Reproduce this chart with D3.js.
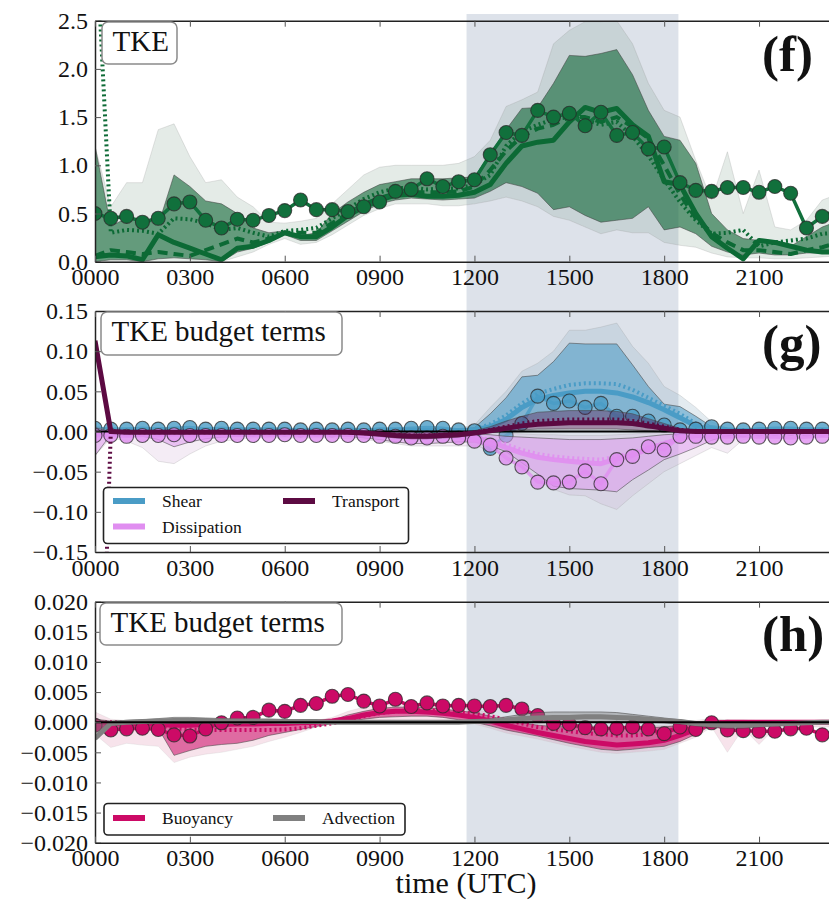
<!DOCTYPE html>
<html>
<head>
<meta charset="utf-8">
<script src="https://cdn.jsdelivr.net/npm/d3@7"></script>
<style>
  body { margin: 0; background: #fff; }
  svg { display: block; }
  svg text { font-family: "Liberation Serif", "Times New Roman", serif !important; fill: #111; }
</style>
</head>
<body>
<svg id="chart" width="829" height="903"></svg>
<script>
// ---- time axis (hours UTC, half-hourly) ----
const HOURS = [0,0.5,1,1.5,2,2.5,3,3.5,4,4.5,5,5.5,6,6.5,7,7.5,8,8.5,9,9.5,
  10,10.5,11,11.5,12,12.5,13,13.5,14,14.5,15,15.5,16,16.5,17,17.5,18,18.5,19,19.5,
  20,20.5,21,21.5,22,22.5,23,23.5];
const X_TICKS = [0,3,6,9,12,15,18,21];
const X_TICK_LABELS = ["0000","0300","0600","0900","1200","1500","1800","2100"];
const SHADE_HOURS = [11.75, 18.45];

// ---- (f) TKE ----
const tkeObs = [0.50,0.45,0.47,0.41,0.45,0.60,0.62,0.43,0.35,0.44,
  0.43,0.48,0.53,0.64,0.54,0.54,0.52,0.57,0.62,0.73,
  0.75,0.86,0.78,0.83,0.85,1.11,1.34,1.31,1.57,1.50,
  1.54,1.41,1.55,1.31,1.34,1.17,1.19,0.82,0.74,0.73,
  0.77,0.77,0.72,0.78,0.71,0.35,0.47,0.55];
const tkeSolid = [0.05,0.07,0.06,0.02,0.28,0.20,0.14,0.08,0.02,0.14,
  0.16,0.22,0.30,0.26,0.26,0.36,0.48,0.57,0.64,0.69,
  0.70,0.68,0.68,0.69,0.72,0.80,1.02,1.20,1.24,1.26,
  1.45,1.60,1.55,1.59,1.42,1.30,0.83,0.80,0.50,0.26,
  0.14,0.03,0.22,0.20,0.16,0.12,0.10,0.10];
const tkeDashed = [0.06,0.12,0.10,0.08,0.10,0.08,0.06,0.12,0.18,0.24,
  0.20,0.24,0.30,0.30,0.30,0.40,0.50,0.60,0.66,0.71,
  0.72,0.72,0.72,0.73,0.78,0.95,1.15,1.30,1.38,1.42,
  1.50,1.50,1.45,1.50,1.40,1.28,1.00,0.70,0.45,0.30,
  0.20,0.12,0.12,0.10,0.08,0.12,0.15,0.20];
const tkeDotted = [3.60,0.30,0.33,0.32,0.29,0.45,0.44,0.40,0.33,0.35,
  0.30,0.26,0.32,0.33,0.35,0.45,0.55,0.65,0.72,0.76,
  0.77,0.75,0.76,0.76,0.80,0.90,1.20,1.35,1.42,1.48,
  1.50,1.47,1.42,1.45,1.30,1.10,0.85,0.62,0.43,0.29,
  0.30,0.33,0.16,0.20,0.22,0.24,0.29,0.30];
const tkeInnerHi = [1.20,0.37,0.45,0.45,0.38,0.90,0.78,0.63,0.60,0.50,
  0.35,0.30,0.32,0.27,0.30,0.50,0.62,0.72,0.80,0.83,
  0.86,0.86,0.86,0.87,0.88,1.12,1.37,1.59,1.60,1.85,
  2.14,2.13,2.16,2.20,1.94,1.57,1.30,1.26,1.02,0.50,
  0.33,0.24,0.22,0.19,0.16,0.26,0.36,0.42];
const tkeInnerLo = [0.00,0.02,0.02,0.00,0.03,0.04,0.03,0.02,0.00,0.10,
  0.14,0.20,0.28,0.22,0.22,0.32,0.42,0.52,0.60,0.64,
  0.66,0.65,0.64,0.65,0.66,0.73,0.82,0.78,0.71,0.54,
  0.57,0.48,0.41,0.43,0.45,0.57,0.33,0.36,0.29,0.16,
  0.10,0.07,0.09,0.07,0.07,0.09,0.09,0.10];
const tkeOuterHi = [1.20,0.57,0.82,0.82,1.37,1.43,1.09,0.82,0.85,0.67,
  0.57,0.41,0.40,0.42,0.45,0.60,0.75,0.90,0.98,1.00,
  1.00,1.00,1.00,1.02,1.09,1.26,1.61,1.68,1.76,2.26,
  2.40,2.49,2.49,2.50,2.26,1.85,1.57,1.50,1.05,0.64,
  1.14,0.50,0.95,0.36,0.33,0.43,0.64,0.70];
const tkeOuterLo = [0.00,0.00,0.00,0.00,0.00,0.00,0.00,0.00,0.00,0.05,
  0.10,0.18,0.24,0.18,0.20,0.28,0.38,0.48,0.55,0.60,
  0.60,0.60,0.58,0.58,0.60,0.63,0.67,0.63,0.57,0.47,
  0.43,0.36,0.29,0.33,0.30,0.30,0.20,0.17,0.15,0.09,
  0.05,0.04,0.04,0.03,0.03,0.04,0.05,0.06];
const tkeTicks = [0,0.5,1,1.5,2,2.5];
const tkeTickLabels = ["0.0","0.5","1.0","1.5","2.0","2.5"];

// ---- (g) shear, dissipation, transport ----
const shearObs = [0.004,0.003,0.003,0.004,0.003,0.004,0.005,0.003,0.004,0.003,
  0.003,0.003,0.003,0.002,0.003,0.002,0.003,0.002,0.003,0.003,
  0.004,0.005,0.004,0.002,0.001,-0.021,-0.005,0.010,0.044,0.035,
  0.038,0.030,0.035,0.019,0.019,0.013,0.008,0.002,0.003,0.006,
  0.003,0.002,0.003,0.004,0.004,0.003,0.003,0.003];
const shearSolid = [0.001,0,0,0,0,0,0,0,0,0,
  0,0,0,0,0,0,0,0,0,0.001,
  0.001,0.001,0.001,0.001,0.002,0.006,0.015,0.030,0.040,0.045,
  0.048,0.050,0.050,0.048,0.043,0.036,0.027,0.017,0.007,0.002,
  0.001,0.001,0,0,0,0,0,0];
const shearDotted = [0.002,0.001,0.001,0.001,0.001,0.001,0.001,0.001,0.001,0.001,
  0.001,0.001,0.001,0.001,0.001,0.001,0.001,0.001,0.001,0.001,
  0.001,0.001,0.001,0.001,0.003,0.009,0.020,0.035,0.047,0.053,
  0.058,0.060,0.060,0.059,0.052,0.042,0.032,0.022,0.010,0.004,
  0.001,0.001,0.001,0.001,0.001,0.001,0.001,0.001];
const shearInnerHi = [0.003,0.002,0.002,0.002,0.002,0.002,0.002,0.002,0.002,0.002,
  0.002,0.002,0.002,0.002,0.002,0.002,0.002,0.002,0.002,0.002,
  0.002,0.002,0.002,0.002,0.005,0.022,0.042,0.068,0.070,0.087,
  0.110,0.109,0.109,0.109,0.083,0.056,0.034,0.031,0.019,0.006,
  0.002,0.002,0.002,0.002,0.002,0.002,0.002,0.002];
const shearInnerLo = [0,0,0,0,0,0,0,0,0,0,
  0,0,0,0,0,0,0,0,0,0,
  0,0,0,0,0,0.001,0.003,0.005,0.008,0.010,
  0.012,0.012,0.012,0.010,0.008,0.005,0.002,0.001,0,0,
  0,0,0,0,0,0,0,0];
const shearOuterHi = [0.004,0.003,0.003,0.003,0.003,0.003,0.003,0.003,0.003,0.003,
  0.003,0.003,0.003,0.003,0.003,0.003,0.003,0.003,0.003,0.003,
  0.003,0.003,0.003,0.004,0.008,0.030,0.050,0.075,0.085,0.100,
  0.126,0.126,0.130,0.135,0.106,0.085,0.056,0.045,0.030,0.012,
  0.004,0.003,0.003,0.003,0.003,0.003,0.003,0.003];
const shearOuterLo = [-0.002,-0.002,-0.002,-0.002,-0.002,-0.002,-0.002,-0.002,-0.002,-0.002,
  -0.002,-0.002,-0.002,-0.002,-0.002,-0.002,-0.002,-0.002,-0.002,-0.002,
  -0.002,-0.002,-0.002,-0.002,-0.002,-0.002,-0.001,0.000,0.002,0.003,
  0.004,0.004,0.004,0.003,0.002,0.001,0.000,-0.001,-0.002,-0.002,
  -0.002,-0.002,-0.002,-0.002,-0.002,-0.002,-0.002,-0.002];

const dissObs = [-0.005,-0.005,-0.006,-0.005,-0.005,-0.004,-0.005,-0.005,-0.005,-0.005,
  -0.005,-0.005,-0.004,-0.005,-0.005,-0.005,-0.005,-0.005,-0.006,-0.006,
  -0.008,-0.008,-0.006,-0.008,-0.012,-0.017,-0.033,-0.044,-0.063,-0.064,
  -0.063,-0.049,-0.065,-0.035,-0.031,-0.019,-0.023,-0.006,-0.006,-0.007,
  -0.007,-0.006,-0.007,-0.007,-0.008,-0.007,-0.006,-0.006];
const dissSolid = [-0.002,-0.002,-0.002,-0.002,-0.002,-0.002,-0.002,-0.002,-0.002,-0.002,
  -0.002,-0.002,-0.002,-0.002,-0.002,-0.002,-0.002,-0.002,-0.003,-0.004,
  -0.005,-0.005,-0.005,-0.006,-0.008,-0.012,-0.020,-0.027,-0.032,-0.035,
  -0.037,-0.039,-0.040,-0.034,-0.029,-0.022,-0.015,-0.009,-0.005,-0.003,
  -0.002,-0.002,-0.002,-0.002,-0.002,-0.002,-0.002,-0.002];
const dissDotted = [-0.002,-0.002,-0.002,-0.002,-0.002,-0.002,-0.002,-0.002,-0.002,-0.002,
  -0.002,-0.002,-0.002,-0.002,-0.002,-0.002,-0.002,-0.002,-0.003,-0.003,
  -0.004,-0.004,-0.004,-0.005,-0.007,-0.010,-0.016,-0.023,-0.028,-0.031,
  -0.033,-0.034,-0.035,-0.031,-0.026,-0.020,-0.014,-0.009,-0.005,-0.003,
  -0.002,-0.002,-0.002,-0.002,-0.002,-0.002,-0.002,-0.002];
const dissInnerHi = [0.005,-0.001,-0.001,-0.001,-0.001,-0.001,-0.001,-0.001,-0.001,-0.001,
  -0.001,-0.001,-0.001,-0.001,-0.001,-0.001,-0.001,-0.001,-0.001,-0.002,
  -0.002,-0.002,-0.002,-0.002,-0.003,-0.004,-0.006,-0.007,-0.008,-0.009,
  -0.010,-0.010,-0.010,-0.009,-0.008,-0.006,-0.004,-0.003,-0.002,-0.001,
  -0.001,-0.001,-0.001,-0.001,-0.001,-0.001,-0.001,-0.001];
const dissInnerLo = [-0.030,-0.004,-0.005,-0.006,-0.010,-0.019,-0.013,-0.009,-0.007,-0.006,
  -0.005,-0.005,-0.005,-0.005,-0.005,-0.005,-0.006,-0.008,-0.010,-0.013,
  -0.015,-0.015,-0.014,-0.013,-0.013,-0.018,-0.025,-0.039,-0.053,-0.068,
  -0.071,-0.072,-0.073,-0.075,-0.060,-0.048,-0.035,-0.028,-0.020,-0.011,
  -0.005,-0.004,-0.004,-0.004,-0.004,-0.004,-0.004,-0.004];
const dissOuterHi = [0.006,0.001,0.001,0.001,0.001,0.001,0.001,0.001,0.001,0.001,
  0.001,0.001,0.001,0.001,0.001,0.001,0.001,0.001,0.001,0.000,
  0.000,0.000,0.000,0.000,0.000,-0.001,-0.002,-0.003,-0.004,-0.004,
  -0.005,-0.005,-0.005,-0.004,-0.003,-0.002,-0.001,0.000,0.001,0.001,
  0.001,0.001,0.001,0.001,0.001,0.001,0.001,0.001];
const dissOuterLo = [-0.030,-0.008,-0.012,-0.020,-0.037,-0.040,-0.028,-0.018,-0.012,-0.010,
  -0.008,-0.008,-0.008,-0.008,-0.008,-0.008,-0.009,-0.010,-0.012,-0.015,
  -0.018,-0.018,-0.018,-0.018,-0.018,-0.022,-0.030,-0.045,-0.060,-0.072,
  -0.079,-0.080,-0.090,-0.097,-0.080,-0.065,-0.050,-0.040,-0.030,-0.020,
  -0.027,-0.010,-0.008,-0.007,-0.007,-0.007,-0.007,-0.007];

const transSolid = [0.113,0.000,-0.001,-0.001,-0.001,-0.001,-0.001,-0.001,-0.001,-0.001,
  -0.001,-0.001,-0.001,-0.001,-0.001,-0.001,-0.001,-0.002,-0.003,-0.005,
  -0.006,-0.006,-0.005,-0.004,-0.002,0.001,0.004,0.007,0.009,0.010,
  0.011,0.011,0.011,0.011,0.010,0.007,0.004,0.001,0.000,0.000,
  0.000,0.000,0.000,0.000,0.000,0.000,0.000,0.000];
const transDotted = [-0.600,0.000,-0.001,-0.001,-0.001,-0.001,-0.001,-0.001,-0.001,-0.001,
  -0.001,-0.001,-0.001,-0.001,-0.001,-0.001,-0.001,-0.002,-0.003,-0.004,
  -0.005,-0.005,-0.004,-0.003,-0.001,0.002,0.006,0.010,0.013,0.014,
  0.015,0.015,0.015,0.015,0.013,0.010,0.006,0.002,0.000,0.000,
  0.000,0.000,0.000,0.000,0.000,0.000,0.000,0.000];
const transInnerHi = [0.113,0.001,0.001,0.001,0.001,0.001,0.001,0.001,0.001,0.001,
  0.001,0.001,0.001,0.001,0.001,0.001,0.001,0.000,-0.001,-0.002,
  -0.003,-0.003,-0.002,-0.001,0.001,0.006,0.013,0.019,0.024,0.025,
  0.026,0.026,0.026,0.025,0.022,0.016,0.010,0.004,0.001,0.001,
  0.001,0.001,0.001,0.001,0.001,0.001,0.001,0.001];
const transInnerLo = [0.100,-0.002,-0.002,-0.002,-0.002,-0.002,-0.002,-0.002,-0.002,-0.002,
  -0.002,-0.002,-0.002,-0.002,-0.002,-0.002,-0.003,-0.004,-0.006,-0.008,
  -0.009,-0.009,-0.008,-0.007,-0.004,-0.001,0.000,0.002,0.003,0.003,
  0.003,0.003,0.003,0.003,0.002,0.001,0.000,-0.001,-0.001,-0.001,
  -0.001,-0.001,-0.001,-0.001,-0.001,-0.001,-0.001,-0.001];
const budgetTicks = [-0.15,-0.10,-0.05,0,0.05,0.10,0.15];
const budgetTickLabels = ["\u22120.15","\u22120.10","\u22120.05","0.00","0.05","0.10","0.15"];

// ---- (h) buoyancy, advection ----
const buoyObs = [-0.0005,-0.0013,-0.0011,-0.0010,-0.0012,-0.0021,-0.0023,-0.0011,-0.0001,0.0007,
  0.0008,0.0020,0.0018,0.0028,0.0031,0.0043,0.0046,0.0035,0.0027,0.0038,
  0.0026,0.0032,0.0027,0.0028,0.0027,0.0026,0.0028,0.0022,0.0011,-0.0002,
  -0.0003,-0.0009,-0.0011,-0.0010,-0.0008,-0.0011,-0.0019,-0.0008,-0.0012,-0.0001,
  -0.0013,-0.0014,-0.0015,-0.0015,-0.0011,-0.0010,-0.0021,-0.0015];
const buoySolid = [0.0000,-0.0003,-0.0003,-0.0003,-0.0004,-0.0005,-0.0005,-0.0004,-0.0004,-0.0003,
  -0.0003,-0.0002,-0.0002,-0.0001,0.0000,0.0002,0.0006,0.0012,0.0016,0.0018,
  0.0018,0.0017,0.0015,0.0012,0.0008,0.0002,-0.0005,-0.0011,-0.0017,-0.0022,
  -0.0027,-0.0032,-0.0035,-0.0038,-0.0036,-0.0034,-0.0030,-0.0022,-0.0012,-0.0002,
  0.0000,0.0000,0.0000,0.0000,0.0000,0.0000,0.0000,0.0000];
const buoyDotted = [0.0000,0.0000,0.0000,-0.0002,-0.0005,-0.0010,-0.0012,-0.0013,-0.0013,-0.0013,
  -0.0013,-0.0013,-0.0012,-0.0010,-0.0006,-0.0002,0.0004,0.0010,0.0015,0.0018,
  0.0020,0.0020,0.0019,0.0017,0.0014,0.0010,0.0004,-0.0002,-0.0008,-0.0012,
  -0.0015,-0.0018,-0.0020,-0.0022,-0.0022,-0.0020,-0.0015,-0.0010,-0.0005,0.0000,
  0.0000,0.0000,0.0000,0.0000,0.0000,0.0000,0.0000,0.0000];
const buoyInnerHi = [0.0005,0.0000,0.0000,0.0000,0.0000,0.0000,0.0000,0.0000,0.0000,0.0000,
  0.0000,0.0000,0.0000,0.0000,0.0000,0.0003,0.0012,0.0018,0.0023,0.0025,
  0.0025,0.0024,0.0022,0.0019,0.0016,0.0010,0.0003,-0.0001,-0.0005,-0.0007,
  -0.0008,-0.0009,-0.0010,-0.0010,-0.0010,-0.0009,-0.0008,-0.0005,0.0000,0.0003,
  0.0003,0.0002,0.0001,0.0001,0.0001,0.0001,0.0001,0.0001];
const buoyInnerLo = [-0.0015,-0.0010,-0.0008,-0.0008,-0.0010,-0.0055,-0.0047,-0.0040,-0.0037,-0.0035,
  -0.0030,-0.0022,-0.0017,-0.0012,-0.0007,-0.0002,0.0002,0.0005,0.0008,0.0009,
  0.0010,0.0010,0.0008,0.0004,0.0000,-0.0006,-0.0013,-0.0018,-0.0023,-0.0029,
  -0.0035,-0.0040,-0.0045,-0.0047,-0.0045,-0.0042,-0.0040,-0.0032,-0.0020,-0.0005,
  -0.0005,-0.0004,-0.0004,-0.0003,-0.0003,-0.0003,-0.0003,-0.0003];
const buoyOuterHi = [0.0017,0.0005,0.0003,0.0003,0.0003,0.0003,0.0003,0.0003,0.0003,0.0003,
  0.0003,0.0003,0.0003,0.0003,0.0003,0.0008,0.0018,0.0025,0.0030,0.0032,
  0.0032,0.0031,0.0029,0.0026,0.0022,0.0015,0.0006,0.0002,-0.0002,-0.0004,
  -0.0005,-0.0006,-0.0007,-0.0007,-0.0007,-0.0006,-0.0005,-0.0003,0.0003,0.0006,
  0.0004,0.0004,0.0003,0.0003,0.0003,0.0003,0.0003,0.0003];
const buoyOuterLo = [-0.0020,-0.0042,-0.0035,-0.0038,-0.0040,-0.0067,-0.0058,-0.0053,-0.0050,-0.0045,
  -0.0040,-0.0032,-0.0025,-0.0017,-0.0008,-0.0003,0.0000,0.0002,0.0003,0.0004,
  0.0004,0.0003,0.0002,0.0000,-0.0003,-0.0010,-0.0018,-0.0023,-0.0028,-0.0034,
  -0.0040,-0.0045,-0.0050,-0.0052,-0.0050,-0.0048,-0.0045,-0.0035,-0.0025,-0.0008,
  -0.0050,-0.0010,-0.0037,-0.0010,-0.0008,-0.0008,-0.0008,-0.0008];

const advSolid = [-0.0027,-0.0002,0.0000,0.0001,0.0002,0.0003,0.0003,0.0003,0.0002,0.0002,
  0.0002,0.0002,0.0001,0.0001,0.0001,0.0000,0.0000,0.0000,0.0000,0.0000,
  0.0000,0.0000,0.0000,0.0000,0.0001,0.0002,0.0004,0.0006,0.0007,0.0008,
  0.0008,0.0009,0.0009,0.0008,0.0007,0.0005,0.0003,0.0001,-0.0002,-0.0004,
  -0.0005,-0.0005,-0.0004,-0.0003,-0.0002,-0.0001,0.0000,0.0000];
const advInnerHi = [0.0005,0.0002,0.0003,0.0004,0.0006,0.0008,0.0008,0.0007,0.0006,0.0005,
  0.0005,0.0004,0.0003,0.0002,0.0002,0.0001,0.0001,0.0001,0.0001,0.0001,
  0.0001,0.0001,0.0001,0.0001,0.0003,0.0005,0.0009,0.0013,0.0016,0.0017,
  0.0017,0.0017,0.0017,0.0016,0.0013,0.0010,0.0007,0.0004,0.0001,0.0000,
  0.0000,0.0000,0.0000,0.0000,0.0000,0.0000,0.0000,0.0000];
const advInnerLo = [-0.0030,-0.0005,-0.0003,-0.0002,-0.0002,-0.0002,-0.0002,-0.0002,-0.0002,-0.0002,
  -0.0001,-0.0001,-0.0001,-0.0001,-0.0001,-0.0001,-0.0001,-0.0001,-0.0001,-0.0001,
  -0.0001,-0.0001,-0.0001,-0.0001,-0.0001,-0.0001,0.0000,0.0001,0.0001,0.0001,
  0.0001,0.0001,0.0001,0.0001,0.0001,0.0000,-0.0001,-0.0003,-0.0006,-0.0009,
  -0.0010,-0.0010,-0.0008,-0.0006,-0.0004,-0.0002,-0.0001,-0.0001];
const buoyTicks = [-0.02,-0.015,-0.01,-0.005,0,0.005,0.01,0.015,0.02];
const buoyTickLabels = ["\u22120.020","\u22120.015","\u22120.010","\u22120.005","0.000","0.005","0.010","0.015","0.020"];

// ---- legends ----
const legendG = ["Shear", "Dissipation", "Transport"];
const legendH = ["Buoyancy", "Advection"];

// ---- colours ----
const C = {
  green: "#0c6a35", shear: "#4a9cc6", diss: "#e08ef0", trans: "#5c0a42",
  buoy: "#cc0a66", adv: "#808080", shade: "#dde2ea", spine: "#222"
};
const SERIF = "'Liberation Serif', 'Times New Roman', serif";

const svg = d3.select("#chart");
const x = d3.scaleLinear().domain([0, 24]).range([95, 853.9]);
const PH = 241;

// daytime shading behind all three panels
svg.append("rect")
  .attr("x", x(SHADE_HOURS[0])).attr("y", 14)
  .attr("width", x(SHADE_HOURS[1]) - x(SHADE_HOURS[0])).attr("height", 843.3 - 14)
  .attr("fill", C.shade);

const DASH = { solid: null, dashed: "10,6", dotted: "2,3" };

function addText(sel, size) {
  return sel.append("text").style("font-family", SERIF).style("font-size", size + "px");
}

function drawPanel(p) {
  const y = d3.scaleLinear().domain(p.domain).range([p.top + PH, p.top]);
  const g = svg.append("g");
  const clipId = "clip-" + p.id;
  svg.append("clipPath").attr("id", clipId).append("rect")
    .attr("x", x(0)).attr("y", p.top).attr("width", x(24) - x(0)).attr("height", PH);
  const plot = g.append("g").attr("clip-path", `url(#${clipId})`);

  const band = (lo, hi) => d3.area()
    .x((d, i) => x(HOURS[i])).y0((d, i) => y(lo[i])).y1((d, i) => y(hi[i]))(HOURS);
  const line = d3.line().x((d, i) => x(HOURS[i])).y(d => y(d));

  const zero = () => plot.append("line")
    .attr("x1", x(0)).attr("x2", x(24)).attr("y1", y(0)).attr("y2", y(0))
    .attr("stroke", "#000").attr("stroke-width", 2);

  p.vars.forEach((v, vi) => {
    (v.bands || []).forEach(b => {
      plot.append("path").attr("d", band(b.lo, b.hi))
        .attr("fill", b.fill).attr("fill-opacity", b.op)
        .attr("stroke", b.edge || "#444").attr("stroke-opacity", b.edgeOp == null ? 0.55 : b.edgeOp)
        .attr("stroke-width", 1);
    });
    if (p.zeroBeforeLines && vi === p.vars.length - 1) zero();
    (v.lines || []).forEach(l => {
      plot.append("path").attr("d", line(l.vals)).attr("fill", "none")
        .attr("stroke", v.color).attr("stroke-width", l.w)
        .attr("stroke-opacity", l.op || 1)
        .attr("stroke-dasharray", DASH[l.style])
        .attr("stroke-linejoin", "round");
    });
    if (v.obs) {
      plot.append("path").attr("d", line(v.obs)).attr("fill", "none")
        .attr("stroke", v.obsColor || v.color).attr("stroke-width", 3.5)
        .attr("stroke-opacity", v.obsOp || 1);
      plot.selectAll(null).data(v.obs).join("circle")
        .attr("cx", (d, i) => x(HOURS[i])).attr("cy", d => y(d)).attr("r", 7)
        .attr("fill", v.obsColor || v.color).attr("fill-opacity", v.obsOp || 1)
        .attr("stroke", "#2a2a2a").attr("stroke-opacity", 0.75).attr("stroke-width", 1.1);
    }
  });
  if (p.zeroOnTop) zero();

  // axes: ticks point inward
  const left = d3.axisLeft(y).tickValues(p.ticks).tickFormat((d, i) => p.tickLabels[i])
    .tickSize(-6).tickSizeOuter(0).tickPadding(7);
  const bottom = d3.axisBottom(x).tickValues(X_TICKS).tickFormat((d, i) => X_TICK_LABELS[i])
    .tickSize(-6).tickSizeOuter(0).tickPadding(6.5);
  const top = d3.axisTop(x).tickValues(X_TICKS).tickFormat("").tickSize(-6).tickSizeOuter(0);

  const ga = g.append("g").attr("transform", `translate(${x(0)},0)`).call(left);
  const gb = g.append("g").attr("transform", `translate(0,${p.top + PH})`).call(bottom);
  const gt = g.append("g").attr("transform", `translate(0,${p.top})`).call(top);
  [ga, gb, gt].forEach(a => {
    a.attr("font-family", null).attr("font-size", null);
    a.select(".domain").attr("stroke", C.spine).attr("stroke-width", 1.5);
    a.selectAll(".tick line").attr("stroke", "#555").attr("stroke-width", 1);
    a.selectAll(".tick text").style("font-size", "24px")
      .style("font-family", SERIF).attr("fill", "#111");
  });

  // title box
  const tb = p.titleBox;
  g.append("rect").attr("x", tb[0]).attr("y", tb[1]).attr("width", tb[2]).attr("height", tb[3])
    .attr("rx", 6).attr("fill", "#fff").attr("stroke", "#8a8a8a").attr("stroke-width", 1.5);
  addText(g, 29).attr("x", tb[0] + 10.5).attr("y", tb[1] + 29).text(p.title);

  // panel tag
  addText(g, 51).attr("x", 762).attr("y", p.tagY).style("font-weight", "bold").text(p.tag);

  // legend
  if (p.legend) {
    const L = p.legend;
    g.append("rect").attr("x", L.box[0]).attr("y", L.box[1]).attr("width", L.box[2]).attr("height", L.box[3])
      .attr("rx", 4).attr("fill", "#fff").attr("stroke", "#222").attr("stroke-width", 1.6);
    L.items.forEach(it => {
      g.append("line").attr("x1", it.x).attr("x2", it.x + 32).attr("y1", it.y).attr("y2", it.y)
        .attr("stroke", it.color).attr("stroke-width", 6);
      addText(g, 17.5).attr("x", it.x + 49).attr("y", it.y + 6).text(it.label);
    });
  }
  return y;
}

// (f)
drawPanel({
  id: "f", top: 20.7, domain: [0, 2.5], ticks: tkeTicks, tickLabels: tkeTickLabels,
  title: "TKE", titleBox: [102, 22, 75, 42], tag: "(f)", tagY: 71,
  vars: [{
    color: C.green, obsColor: "#11703c",
    bands: [
      { lo: tkeOuterLo, hi: tkeOuterHi, fill: "#7a9a88", op: 0.2, edge: "#999", edgeOp: 0.25 },
      { lo: tkeInnerLo, hi: tkeInnerHi, fill: "#0f6535", op: 0.6 }
    ],
    lines: [
      { vals: tkeDotted, style: "dotted", w: 4 },
      { vals: tkeDashed, style: "dashed", w: 4 },
      { vals: tkeSolid, style: "solid", w: 5 }
    ],
    obs: tkeObs
  }]
});

// (g)
drawPanel({
  id: "g", top: 311, domain: [-0.15, 0.15], ticks: budgetTicks, tickLabels: budgetTickLabels,
  title: "TKE budget terms", titleBox: [101, 312, 241, 43], tag: "(g)", tagY: 360,
  zeroBeforeLines: true,
  vars: [
    {
      color: C.shear,
      bands: [
        { lo: shearOuterLo, hi: shearOuterHi, fill: "#8fb0c2", op: 0.25, edge: "#999", edgeOp: 0.25 },
        { lo: shearInnerLo, hi: shearInnerHi, fill: "#3c94c2", op: 0.5 }
      ],
      lines: [
        { vals: shearDotted, style: "dotted", w: 4 },
        { vals: shearSolid, style: "solid", w: 5 }
      ],
      obs: shearObs, obsOp: 0.8
    },
    {
      color: C.diss,
      bands: [
        { lo: dissOuterLo, hi: dissOuterHi, fill: "#c8a0cc", op: 0.2, edge: "#999", edgeOp: 0.25 },
        { lo: dissInnerLo, hi: dissInnerHi, fill: "#dd95ef", op: 0.5 }
      ],
      lines: [
        { vals: dissDotted, style: "dotted", w: 4, op: 0.9 },
        { vals: dissSolid, style: "solid", w: 5, op: 0.9 }
      ],
      obs: dissObs, obsOp: 0.8
    },
    {
      color: C.trans,
      bands: [{ lo: transInnerLo, hi: transInnerHi, fill: C.trans, op: 0.35 }],
      lines: [
        { vals: transDotted, style: "dotted", w: 4 },
        { vals: transSolid, style: "solid", w: 5 }
      ]
    }
  ],
  legend: {
    box: [103.5, 487.5, 305, 56],
    items: [
      { x: 113, y: 501, color: C.shear, label: legendG[0] },
      { x: 113, y: 526.5, color: C.diss, label: legendG[1] },
      { x: 283, y: 501, color: C.trans, label: legendG[2] }
    ]
  }
});

// (h)
drawPanel({
  id: "h", top: 601.7, domain: [-0.02, 0.02], ticks: buoyTicks, tickLabels: buoyTickLabels,
  title: "TKE budget terms", titleBox: [100, 603, 242, 42], tag: "(h)", tagY: 651,
  zeroOnTop: true,
  vars: [
    {
      color: C.buoy,
      bands: [
        { lo: buoyOuterLo, hi: buoyOuterHi, fill: "#e39ab8", op: 0.28, edge: "#bbb", edgeOp: 0.2 },
        { lo: buoyInnerLo, hi: buoyInnerHi, fill: C.buoy, op: 0.55 }
      ],
      lines: [
        { vals: buoyDotted, style: "dotted", w: 4 },
        { vals: buoySolid, style: "solid", w: 5 }
      ],
      obs: buoyObs
    },
    {
      color: C.adv,
      bands: [{ lo: advInnerLo, hi: advInnerHi, fill: C.adv, op: 0.45 }],
      lines: [{ vals: advSolid, style: "solid", w: 5 }]
    }
  ],
  legend: {
    box: [104, 803.5, 301, 31.5],
    items: [
      { x: 113, y: 818, color: C.buoy, label: legendH[0] },
      { x: 273, y: 818, color: C.adv, label: legendH[1] }
    ]
  }
});

// shared x-axis label
addText(svg, 30).attr("x", 466).attr("y", 893).attr("text-anchor", "middle").text("time (UTC)");
</script>
</body>
</html>
